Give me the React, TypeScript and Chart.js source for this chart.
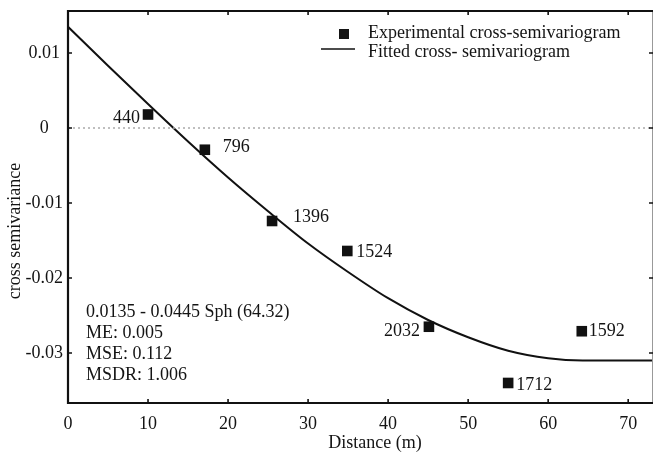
import React, { useEffect, useRef } from 'react';
import { Chart, registerables } from 'chart.js';

Chart.register(...registerables);

// ---- data ----
const expDistance = [10.0, 17.1, 25.5, 34.9, 45.1, 55.0, 64.2];
const expValue = [0.0018, -0.0029, -0.0124, -0.0164, -0.0265, -0.034, -0.0271];
const pairCounts = ['440', '796', '1396', '1524', '2032', '1712', '1592'];

const fitDistance = [0, 5, 10, 15, 20, 25, 30, 35, 40, 45, 50, 55, 60, 64.3, 73.1];
const fitValue = [
  0.0135, 0.0083, 0.0032, -0.0018, -0.0066, -0.0111, -0.0154, -0.0192, -0.0227, -0.0256,
  -0.0279, -0.0297, -0.0307, -0.031, -0.031,
];

const xTicks = [0, 10, 20, 30, 40, 50, 60, 70];
const yTicks = [-0.03, -0.02, -0.01, 0, 0.01];

const statLines = ['0.0135 - 0.0445 Sph (64.32)', 'ME: 0.005', 'MSE: 0.112', 'MSDR: 1.006'];
const legendLabels = ['Experimental cross-semivariogram', 'Fitted cross- semivariogram'];
const xTitle = 'Distance (m)';
const yTitle = 'cross semivariance';

const X_MIN = 0;
const X_MAX = 73.1;
const Y_MIN = -0.03667;
const Y_MAX = 0.0156;

// ---- styling ----
const FONT_FAMILY = '"Liberation Serif", "Times New Roman", serif';
const FONT = `18px ${FONT_FAMILY}`;
const INK = '#141414';
// per-label placement relative to its square: [align, dx, dy]
const LABEL_PLACEMENT: Array<[CanvasTextAlign, number, number]> = [
  ['right', -8, 4],
  ['left', 18, -2],
  ['left', 21, -4],
  ['left', 9, 1],
  ['right', -9, 5],
  ['left', 8, 2],
  ['left', 7, 0],
];

const decorPlugin = {
  id: 'decor',
  afterDatasetsDraw(chart: any) {
    const { ctx, chartArea: a, scales } = chart;
    const xs = scales.x;
    const ys = scales.y;
    ctx.save();

    // point labels
    ctx.font = FONT;
    ctx.fillStyle = INK;
    ctx.textBaseline = 'middle';
    const meta = chart.getDatasetMeta(2);
    meta.data.forEach((pt: any, i: number) => {
      const [align, dx, dy] = LABEL_PLACEMENT[i];
      ctx.textAlign = align;
      ctx.fillText(pairCounts[i], pt.x + dx, pt.y + dy);
    });

    // frame
    ctx.strokeStyle = '#999';
    ctx.lineWidth = 1;
    ctx.beginPath();
    ctx.moveTo(a.right - 0.5, a.top);
    ctx.lineTo(a.right - 0.5, a.bottom);
    ctx.stroke();
    ctx.strokeStyle = '#111';
    ctx.lineWidth = 2.2;
    ctx.beginPath();
    ctx.moveTo(a.right, a.top);
    ctx.lineTo(a.left, a.top);
    ctx.lineTo(a.left, a.bottom);
    ctx.lineTo(a.right, a.bottom);
    ctx.stroke();

    // inward ticks
    ctx.lineWidth = 1.6;
    ctx.beginPath();
    xTicks.forEach((v) => {
      const px = xs.getPixelForValue(v);
      ctx.moveTo(px, a.bottom);
      ctx.lineTo(px, a.bottom - 4);
      ctx.moveTo(px, a.top);
      ctx.lineTo(px, a.top + 4);
    });
    yTicks.forEach((v) => {
      const py = ys.getPixelForValue(v);
      ctx.moveTo(a.left, py);
      ctx.lineTo(a.left + 4, py);
      ctx.moveTo(a.right, py);
      ctx.lineTo(a.right - 4, py);
    });
    ctx.stroke();

    // statistics block
    ctx.textAlign = 'left';
    ctx.textBaseline = 'middle';
    statLines.forEach((s, i) => {
      ctx.fillText(s, a.left + 18, 312 + i * 21);
    });

    // legend
    ctx.fillRect(339, 29, 10, 10);
    ctx.lineWidth = 1.5;
    ctx.beginPath();
    ctx.moveTo(321, 49);
    ctx.lineTo(355, 49);
    ctx.stroke();
    ctx.fillText(legendLabels[0], 368, 33);
    ctx.fillText(legendLabels[1], 368, 52);

    // axis titles
    ctx.textAlign = 'center';
    ctx.fillText(xTitle, 375, 443);
    ctx.translate(15, 231);
    ctx.rotate(-Math.PI / 2);
    ctx.fillText(yTitle, 0, 0);

    ctx.restore();
  },
};

export default function App() {
  const ref = useRef<HTMLCanvasElement | null>(null);

  useEffect(() => {
    if (!ref.current) return;
    const chart = new Chart(ref.current, {
      type: 'scatter',
      data: {
        datasets: [
          {
            data: [
              { x: X_MIN, y: 0 },
              { x: X_MAX, y: 0 },
            ],
            showLine: true,
            borderColor: '#aaaaaa',
            borderWidth: 1.6,
            borderDash: [2, 3],
            pointRadius: 0,
          } as any,
          {
            data: fitDistance.map((x, i) => ({ x, y: fitValue[i] })),
            showLine: true,
            borderColor: '#111111',
            borderWidth: 2,
            pointRadius: 0,
            cubicInterpolationMode: 'monotone',
          } as any,
          {
            data: expDistance.map((x, i) => ({ x, y: expValue[i] })),
            pointStyle: 'rect',
            pointRadius: 7.5,
            backgroundColor: '#111111',
            borderColor: '#111111',
            borderWidth: 0,
          } as any,
        ],
      },
      options: {
        responsive: false,
        animation: false,
        devicePixelRatio: 1,
        layout: { autoPadding: false, padding: { top: 11, right: 1, bottom: 0, left: 0 } },
        plugins: {
          legend: { display: false },
          tooltip: { enabled: false },
          title: { display: false },
        },
        scales: {
          x: {
            type: 'linear',
            min: X_MIN,
            max: X_MAX,
            afterBuildTicks: (s: any) => {
              s.ticks = xTicks.map((v) => ({ value: v }));
            },
            afterFit: (s: any) => {
              s.height = 50;
              s.paddingLeft = 0;
              s.paddingRight = 0;
              s.paddingTop = 0;
              s.paddingBottom = 0;
            },
            grid: { display: false, drawTicks: false },
            border: { display: false },
            ticks: {
              padding: 10,
              maxRotation: 0,
              color: INK,
              font: { family: FONT_FAMILY, size: 18 },
              callback: (v: any) => String(v),
            },
          },
          y: {
            type: 'linear',
            min: Y_MIN,
            max: Y_MAX,
            afterBuildTicks: (s: any) => {
              s.ticks = yTicks.map((v) => ({ value: v }));
            },
            afterFit: (s: any) => {
              s.width = 68;
              s.paddingLeft = 0;
              s.paddingRight = 0;
              s.paddingTop = 0;
              s.paddingBottom = 0;
            },
            grid: { display: false, drawTicks: false },
            border: { display: false },
            ticks: {
              padding: 5,
              crossAlign: 'center',
              color: INK,
              font: { family: FONT_FAMILY, size: 18 },
              callback: (v: any) => (v === 0 ? '0' : String(v)),
            },
          },
        },
      } as any,
      plugins: [decorPlugin],
    });
    return () => chart.destroy();
  }, []);

  return (
    <div style={{ position: 'fixed', left: 0, top: 0, width: 654, height: 453, background: '#fff' }}>
      <canvas ref={ref} width={654} height={453} style={{ display: 'block' }} />
    </div>
  );
}
